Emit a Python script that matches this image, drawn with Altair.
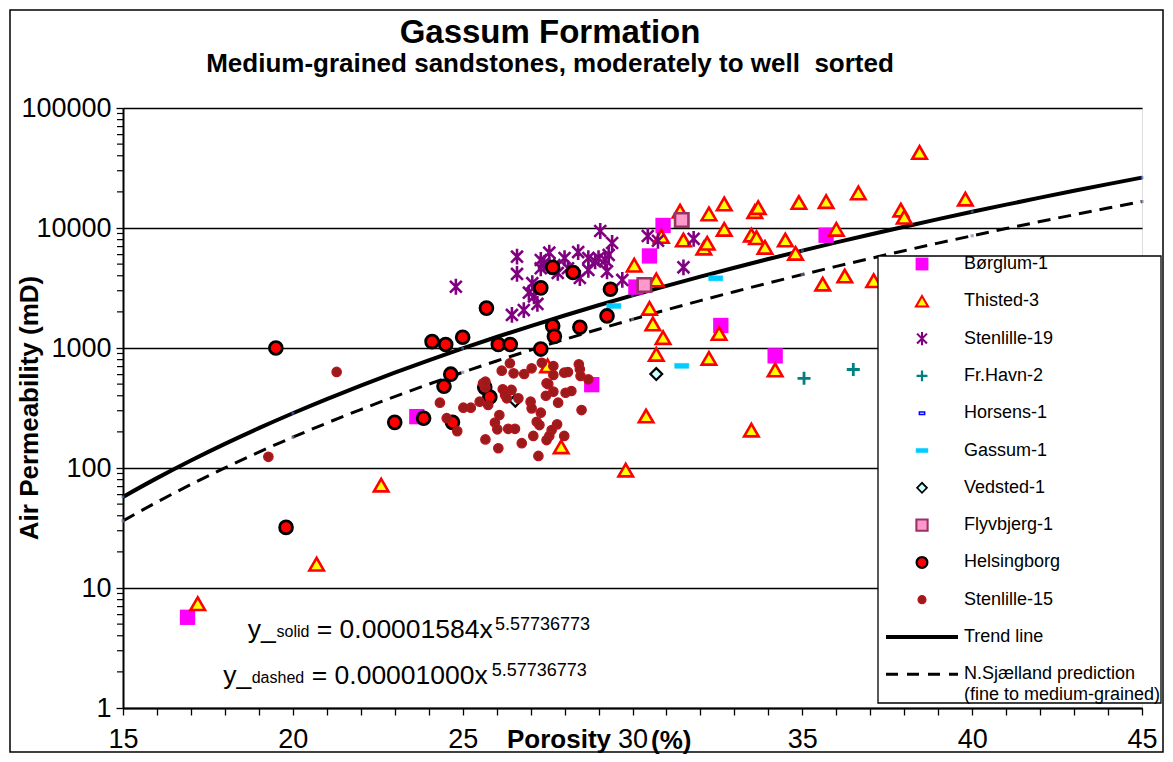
import altair as alt
import pandas as pd

# ---------------- text ----------------
TITLE = "Gassum Formation"
SUBTITLE = "Medium-grained sandstones, moderately to well\u00a0 sorted"
Y_TITLE = "Air Permeability (mD)"
X_TITLE_A = "Porosity"
X_TITLE_B = "(%)"

# ---------------- axis ticks ----------------
x_tick_values = list(range(15, 46))
y_tick_values = [1, 10, 100, 1000, 10000, 100000]
y_minor_values = [m * d for d in [1, 10, 100, 1000, 10000] for m in range(2, 10)]

# ---------------- data (porosity %, permeability mD) ----------------
borglum_por = [16.9, 23.65, 28.8, 30.1, 30.5, 30.9, 32.6, 34.2, 35.7]
borglum_perm = [5.7, 268, 495, 3220, 5850, 10500, 1540, 860, 8700]

thisted_por = [17.2, 20.7, 22.6, 27.9, 27.5, 29.8, 30.4, 30.7, 30.9, 30.6, 30.5, 30.7,
               30.05, 30.85, 31.5, 31.4, 32.25, 32.7, 32.7, 32.1, 32.2, 33.5, 33.65,
               33.6, 33.7, 33.9, 34.5, 34.9, 35.7, 34.8, 36.0, 36.65, 38.45, 37.9,
               38.0, 39.8, 36.25, 35.6, 37.1, 32.25, 32.55, 34.2, 33.5]
thisted_perm = [7.4, 15.8, 72, 150, 710, 96, 271, 886, 1220, 1585, 2140, 3690,
                4900, 8500, 7940, 13800, 13100, 15850, 9750, 6800, 7460, 8730, 8300,
                13700, 14800, 6900, 7940, 16300, 16600, 6150, 9750, 19600, 42600, 14100,
                12300, 17400, 3980, 3410, 3640, 820, 1320, 656, 207]

sten19_por = [24.8, 26.6, 26.6, 26.45, 26.8, 27.2, 26.95, 27.05, 27.3, 27.3, 27.55,
              27.7, 27.8, 28.1, 28.4, 28.7, 28.45, 28.9, 29.05, 29.4, 29.3, 29.2,
              29.25, 29.7, 30.45, 30.75, 31.8, 31.5, 27.4, 27.1, 28.0, 28.7, 29.0]
sten19_perm = [3240, 5770, 4140, 1885, 2070, 2330, 2890, 3470, 4620, 5410, 6230,
               4900, 4220, 4620, 6300, 5620, 3830, 5270, 9440, 7500, 5960, 5410,
               4350, 3690, 8580, 7830, 8120, 4700, 5100, 2690, 5620, 4470, 5620]

frhavn_por = [35.05, 36.5]
frhavn_perm = [559, 662]

horsens_por = []
horsens_perm = []

gassum_por = [29.45, 31.45, 32.45]
gassum_perm = [2240, 710, 3810]

vedsted_por = [26.55, 30.7]
vedsted_perm = [364, 607]

flyv_por = [30.35, 31.45]
flyv_perm = [3350, 11660]

helsing_por = [19.5, 19.8, 23.0, 23.85, 24.1, 24.45, 24.5, 24.65, 24.7, 25.0, 25.65,
               25.7, 25.8, 26.05, 26.4, 27.3, 27.3, 27.65, 27.65, 27.7, 28.25, 28.45,
               29.25, 29.35]
helsing_perm = [1000, 32, 240, 260, 1130, 480, 1070, 605, 240, 1230, 470,
                2150, 390, 1070, 1070, 3170, 980, 4700, 1525, 1250, 4260, 1490,
                1850, 3090]

sten15_por = [26.39, 26.15, 26.5, 26.81, 27.03, 27.33, 27.67, 27.67, 27.99, 28.1, 28.42,
              28.45, 28.47, 28.7, 27.47, 25.6, 25.67, 26.18, 26.44, 26.25, 26.64, 27.0,
              27.45, 27.67, 28.03, 28.2, 27.81, 28.5, 25.75, 25.5, 25.24, 25.02, 24.33,
              27.03, 27.3, 26.08, 25.95, 26.02, 26.34, 26.54, 27.18, 27.26, 27.78, 27.62,
              27.55, 27.47, 27.99, 27.08, 26.74, 25.67, 26.05, 27.23, 24.53, 24.84, 25.67,
              19.28, 21.29, 26.3, 27.52]
sten15_perm = [746, 647, 615, 607, 677, 754, 708, 596, 623, 631, 731,
               665, 584, 548, 508, 508, 470, 453, 447, 406, 381, 357,
               400, 433, 424, 438, 350, 304, 335, 357, 318, 318, 350,
               314, 289, 276, 239, 210, 212, 212, 243, 228, 231, 207,
               185, 171, 185, 185, 161, 173, 146, 126, 260, 203, 524,
               124, 632, 381, 500]

# trend lines (equations printed on the chart)
trend_por = list(range(15, 46))
trend_marker_por = [15, 20, 25, 30, 35, 40, 45]
coef_solid = 0.00001584
coef_dashed = 0.00001000
trend_exp = 5.57736773

legend_labels = ["Børglum-1", "Thisted-3", "Stenlille-19", "Fr.Havn-2", "Horsens-1",
                 "Gassum-1", "Vedsted-1", "Flyvbjerg-1", "Helsingborg", "Stenlille-15",
                 "Trend line", "N.Sjælland prediction"]
legend_extra = "(fine to medium-grained)"

# ---------------- styling ----------------
FONT = "Liberation Sans, Arial, Helvetica, sans-serif"
W, H = 1019, 600

ASTERISK = "M-0.75,-0.75L0.75,0.75M-0.75,0.75L0.75,-0.75M0,-1L0,1"
PLUS = "M-1,0L1,0M0,-1L0,1"
DASH = "M-1,-0.35L1,-0.35L1,0.35L-1,0.35Z"
SMALLRECT = "M-1,-0.5L1,-0.5L1,0.5L-1,0.5Z"

styles = {
    "Børglum-1": dict(shape="square", size=235, filled=True, fill="#FF00FF", strokeWidth=0),
    "Thisted-3": dict(shape="triangle-up", size=210, filled=True, fill="#FFFF00",
                      stroke="#FF0000", strokeWidth=2.6),
    "Stenlille-19": dict(shape=ASTERISK, size=250, filled=False, stroke="#800080",
                         strokeWidth=2.6),
    "Fr.Havn-2": dict(shape=PLUS, size=170, filled=False, stroke="#008080", strokeWidth=2.8),
    "Horsens-1": dict(shape=SMALLRECT, size=40, filled=True, fill="#FFFFFF",
                      stroke="#0000FF", strokeWidth=1.5),
    "Gassum-1": dict(shape=DASH, size=200, filled=True, fill="#00CCFF", stroke="#00CCFF",
                     strokeWidth=0.5),
    "Vedsted-1": dict(shape="diamond", size=140, filled=True, fill="#CCFFFF",
                      stroke="#000000", strokeWidth=2.2),
    "Flyvbjerg-1": dict(shape="square", size=180, filled=True, fill="#FF99CC",
                        stroke="#993366", strokeWidth=2.6),
    "Helsingborg": dict(shape="circle", size=165, filled=True, fill="#FF0000",
                        stroke="#000000", strokeWidth=2.8),
    "Stenlille-15": dict(shape="circle", size=88, filled=True, fill="#9B1B1B",
                         stroke="#B8141E", strokeWidth=1.3),
}

series = [
    ("Børglum-1", borglum_por, borglum_perm),
    ("Thisted-3", thisted_por, thisted_perm),
    ("Stenlille-19", sten19_por, sten19_perm),
    ("Fr.Havn-2", frhavn_por, frhavn_perm),
    ("Horsens-1", horsens_por, horsens_perm),
    ("Gassum-1", gassum_por, gassum_perm),
    ("Vedsted-1", vedsted_por, vedsted_perm),
    ("Flyvbjerg-1", flyv_por, flyv_perm),
    ("Helsingborg", helsing_por, helsing_perm),
    ("Stenlille-15", sten15_por, sten15_perm),
]

x_scale = alt.Scale(domain=[15, 45], nice=False, zero=False)
y_scale = alt.Scale(type="log", domain=[1, 100000], nice=False)

x_axis = alt.Axis(values=x_tick_values, labelExpr="datum.value % 5 === 0 ? datum.label : ''",
                  grid=False, title=None, tickSize=7, tickColor="black", tickWidth=1.3,
                  domainColor="black", domainWidth=2, labelFont=FONT, labelFontSize=27,
                  labelColor="black", labelPadding=11, labelFlush=False)
y_axis = alt.Axis(values=y_tick_values, format="d", grid=True, gridColor="black",
                  gridWidth=1.3, title=None, tickSize=7, tickColor="black", tickWidth=1.3,
                  domainColor="black", domainWidth=2, labelFont=FONT, labelFontSize=27,
                  labelColor="black", labelPadding=5, labelFlush=False)

one = pd.DataFrame({"k": [0]})


def X(field="por:Q"):
    return alt.X(field, scale=x_scale, axis=x_axis)


def Y(field="perm:Q"):
    return alt.Y(field, scale=y_scale, axis=y_axis)


def text(t, x, y, size, weight="normal", align="left", baseline="alphabetic", angle=0):
    kw = dict(text=t, font=FONT, fontSize=size, fontWeight=weight, align=align,
              baseline=baseline, color="black")
    if angle:
        kw["angle"] = angle
    return alt.Chart(one).mark_text(**kw).encode(x=alt.value(x), y=alt.value(y))


layers = []

# trend lines
trend_df = pd.DataFrame({"por": trend_por})
solid = alt.Chart(trend_df).transform_calculate(
    perm=f"{coef_solid} * pow(datum.por, {trend_exp})"
).mark_line(color="black", strokeWidth=4, interpolate="monotone").encode(x=X(), y=Y())
dashed = alt.Chart(trend_df).transform_calculate(
    perm=f"{coef_dashed} * pow(datum.por, {trend_exp})"
).mark_line(color="black", strokeWidth=3, strokeDash=[13, 8], interpolate="monotone").encode(
    x=X(), y=Y())
layers += [solid, dashed]

tm_df = pd.DataFrame({"por": trend_marker_por})
layers.append(alt.Chart(tm_df).transform_calculate(
    perm=f"{coef_solid} * pow(datum.por, {trend_exp})"
).mark_point(shape="square", size=8, filled=True, color="#4466BB").encode(x=X(), y=Y()))
layers.append(alt.Chart(tm_df).transform_calculate(
    perm=f"{coef_dashed} * pow(datum.por, {trend_exp})"
).mark_point(shape="square", size=10, filled=True, color="#8877AA").encode(x=X(), y=Y()))

# y minor ticks
minor_df = pd.DataFrame({"perm": y_minor_values})
layers.append(alt.Chart(minor_df).mark_rule(color="black", strokeWidth=1.2).encode(
    x=alt.value(-6), x2=alt.value(0), y=Y()))

# data series
for name, por, perm in series:
    if len(por) == 0:
        continue
    df = pd.DataFrame({"por": por, "perm": perm})
    layers.append(alt.Chart(df).mark_point(opacity=1, **styles[name]).encode(x=X(), y=Y()))

# equations
layers += [
    text("y_", 124.7, 530, 26.5),
    text("solid", 153.5, 529, 16),
    text("= 0.00001584x", 193.7, 530, 26.5),
    text("5.57736773", 372, 522, 18),
    text("y_", 100.3, 576, 26.5),
    text("dashed", 128.7, 575, 16),
    text("= 0.00001000x", 188.7, 576, 26.5),
    text("5.57736773", 368.7, 568, 18),
]

# legend box
LX0, LX1, LY0, LY1 = 755, 1038, 148, 595
layers.append(alt.Chart(one).mark_rect(fill="white", stroke="black", strokeWidth=1.3).encode(
    x=alt.value(LX0), x2=alt.value(LX1), y=alt.value(LY0), y2=alt.value(LY1)))
SYM_X, TXT_X, Y0, DY = 799, 841, 156, 37.3
for i, lab in enumerate(legend_labels):
    yy = Y0 + DY * i
    if lab in styles:
        st = dict(styles[lab])
        st["size"] = st["size"] * 0.7
        if "strokeWidth" in st and st["strokeWidth"] > 1.5:
            st["strokeWidth"] = st["strokeWidth"] * 0.8
        layers.append(alt.Chart(one).mark_point(opacity=1, **st).encode(
            x=alt.value(SYM_X), y=alt.value(yy)))
    elif lab == "Trend line":
        layers.append(alt.Chart(one).mark_rule(color="black", strokeWidth=4).encode(
            x=alt.value(763), x2=alt.value(835), y=alt.value(yy)))
    else:
        layers.append(alt.Chart(one).mark_rule(color="black", strokeWidth=3,
                                               strokeDash=[12, 9]).encode(
            x=alt.value(763), x2=alt.value(835), y=alt.value(yy)))
    layers.append(text(lab, TXT_X, yy, 18, baseline="middle"))
layers.append(text(legend_extra, TXT_X, Y0 + DY * 11 + 21, 18, baseline="middle"))

# outer border of the figure (no fill)
layers.append(alt.Chart(one).mark_rect(filled=False, fillOpacity=0, stroke="black",
                                       strokeWidth=1.5).encode(
    x=alt.value(-113), x2=alt.value(1040), y=alt.value(-98), y2=alt.value(644)))

# titles
layers += [
    text(TITLE, 427, -65, 33, weight="bold", align="center"),
    text(SUBTITLE, 427, -36, 26, weight="bold", align="center"),
    text(Y_TITLE, -93, 300, 26, weight="bold", align="center", baseline="middle", angle=270),
    text(X_TITLE_A, 384, 640, 26, weight="bold"),
    text(X_TITLE_B, 528, 641, 26, weight="bold"),
]

chart = alt.layer(*layers).properties(
    width=W, height=H,
    autosize=alt.AutoSizeParams(type="none"),
    padding={"left": 115, "top": 100, "right": 23, "bottom": 46},
).configure_view(stroke="black", strokeWidth=2.5).configure(background="white")

chart.save("out.html", embed_options={"renderer": "svg", "actions": False})
